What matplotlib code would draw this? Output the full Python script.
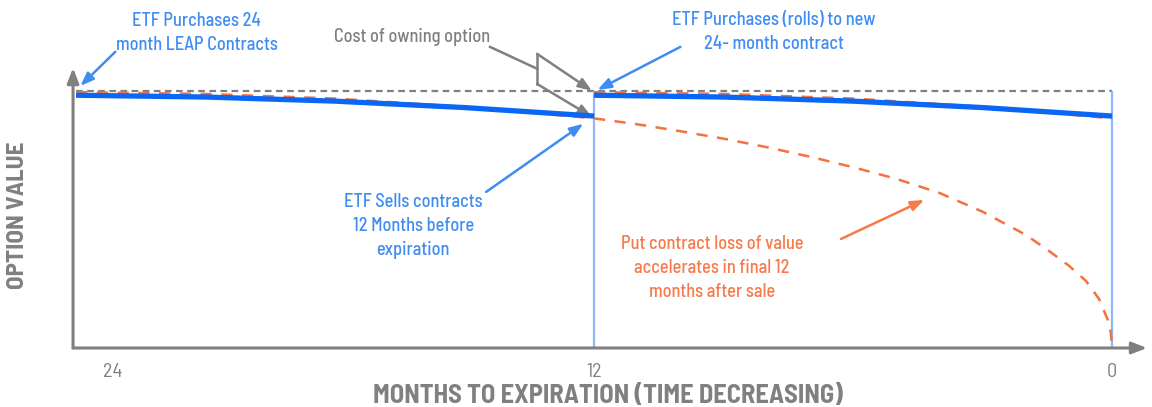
import numpy as np
import matplotlib.pyplot as plt
from matplotlib.transforms import ScaledTranslation

plt.rcParams['font.family'] = ['Barlow Semi Condensed', 'DejaVu Sans']

# -------- Data (months to expiration, option value) --------
# first contract: put value decay over its whole 24 month life
put1_months = [24, 21, 18, 15, 12, 11, 10, 9, 8, 7, 6, 5, 4, 3, 2.5, 2, 1.5, 1, 0.6, 0.3, 0.1, 0.03, 0]
put1_value = [99.5, 98.8, 97.0, 93.8, 89.3, 87.0, 84.3, 81.4, 78.1, 74.4, 70.3, 65.8, 60.3, 53.0, 48.5,
              44.0, 38.2, 32.0, 26.0, 19.0, 11.0, 6.0, 0]
# second (rolled) contract, first 12 months of its life
put2_months = [12, 9, 6, 3, 0]
put2_value = [99.5, 98.8, 97.0, 93.8, 89.3]
# value held by the ETF
etf1_months = [24, 21, 18, 15, 12]
etf1_value = [98.3, 97.6, 96.0, 93.5, 90.2]
etf2_months = [12, 9, 6, 3, 0]
etf2_value = [98.3, 97.6, 96.0, 93.5, 90.2]
purchase_value = 100
roll_months = [12, 0]
tick_months = [24, 12, 0]
tick_labels = ['24', '12', '0']

BLUE = '#0a66f5'
BLUE_TXT = '#3f8cf3'
LIGHT_BLUE = '#8cb8f8'
ORANGE = '#f7703f'
ORANGE_TXT = '#f8794a'
GRAY = '#808080'

# ------ Set up figure layout --------
fig = plt.figure(figsize=(11.52, 4.07), dpi=100)
ax = fig.add_axes([0.0634, 0.145, 0.9323, 0.688])
ax.set_xlim(24.07, -0.81)
ax.set_ylim(0, 108.9)
for s in ax.spines.values():
    s.set_visible(False)

# axis arrows
ax.annotate('', xy=(1, 0), xytext=(0, 0), xycoords='axes fraction',
            arrowprops=dict(arrowstyle='-|>,head_length=0.9,head_width=0.35', color=GRAY, lw=2.2,
                            shrinkA=0, shrinkB=0))
ax.annotate('', xy=(0, 1), xytext=(0, 0), xycoords='axes fraction',
            arrowprops=dict(arrowstyle='-|>,head_length=0.9,head_width=0.35', color=GRAY, lw=2.2,
                            shrinkA=0, shrinkB=0))

# ------- Add Data ------
ax.hlines(purchase_value, 24, 0, colors=GRAY, linestyles=(0, (3, 2)), lw=1.6, zorder=2)
ax.vlines(roll_months, 0, purchase_value, colors=LIGHT_BLUE, lw=1.6, zorder=2)
ax.plot(put1_months, put1_value, color=ORANGE, ls=(0, (4.5, 3.8)), lw=1.8, zorder=3, clip_on=False)
ax.plot(put2_months, put2_value, color=ORANGE, ls=(0, (4.5, 3.8)), lw=1.8, zorder=3)
ax.plot(etf1_months, etf1_value, color=BLUE, lw=3.8, zorder=4, solid_capstyle='butt')
ax.plot(etf2_months, etf2_value, color=BLUE, lw=3.8, zorder=4, solid_capstyle='butt')

# ------ Axes Labels --------
ax.set_xticks(tick_months, tick_labels)
ax.set_yticks([])
ax.tick_params(axis='x', length=0, pad=11, labelsize=14.5, labelcolor=GRAY)
lab = ax.get_xticklabels()[0]
lab.set_transform(lab.get_transform() + ScaledTranslation(0.37, 0, fig.dpi_scale_trans))
ax.set_xlabel('MONTHS TO EXPIRATION (TIME DECREASING)', fontsize=19, fontweight='bold', color=GRAY)
ax.xaxis.set_label_coords(0.498, -0.172)
ax.xaxis.label.set_va('center')
ax.set_ylabel('OPTION VALUE', fontsize=18, fontweight='bold', color=GRAY)
ax.yaxis.set_label_coords(-0.0512, 0.475)
ax.yaxis.label.set_va('center')

# ---- Annotations ----
def arrow(tail, tip, color):
    ax.annotate('', xy=tip, xytext=tail,
                arrowprops=dict(arrowstyle='-|>,head_length=0.8,head_width=0.3', color=color, lw=1.8,
                                shrinkA=0, shrinkB=0), annotation_clip=False)

txt = dict(ha='center', va='center', fontsize=13.2, fontweight='medium', linespacing=1.45, clip_on=False)
ax.text(21.2, 122.6, 'ETF Purchases 24\nmonth LEAP Contracts', color=BLUE_TXT, **txt)
arrow((23.09, 115.2), (23.9, 101.9), BLUE_TXT)

ax.text(7.83, 122.9, 'ETF Purchases (rolls) to new\n24- month contract', color=BLUE_TXT, **txt)
arrow((10.0, 117.1), (11.92, 100.4), BLUE_TXT)

ax.text(16.19, 47.5, 'ETF Sells contracts\n12 Months before\nexpiration', color=BLUE_TXT, **txt)
arrow((14.5, 60.7), (12.25, 87.2), BLUE_TXT)

ax.text(9.27, 31.1, 'Put contract loss of value\naccelerates in final 12\nmonths after sale', color=ORANGE_TXT, **txt)
arrow((6.28, 42.4), (4.35, 57.6), ORANGE_TXT)

ax.text(16.21, 121.0, 'Cost of owning option', color=GRAY, **txt)
ax.plot([14.41, 13.32], [117.1, 108.6], color=GRAY, lw=1.8, clip_on=False)
ax.plot([13.32, 13.32], [114.4, 102.7], color=GRAY, lw=1.8, clip_on=False)
arrow((13.32, 114.4), (12.05, 100.0), GRAY)
arrow((13.32, 102.7), (12.05, 89.9), GRAY)

plt.savefig('out.png', dpi=100)
